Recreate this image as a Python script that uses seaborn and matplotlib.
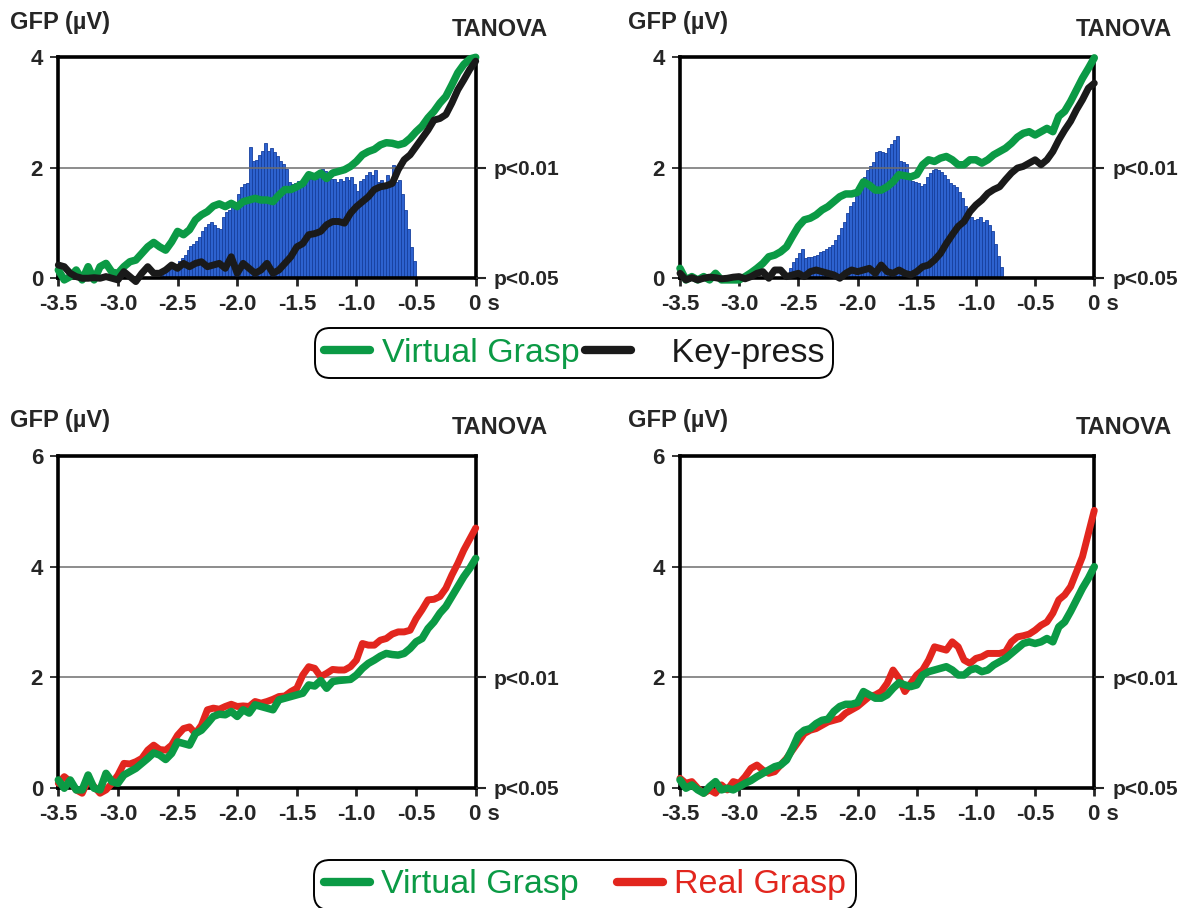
import matplotlib.pyplot as plt
import matplotlib.transforms as mtransforms
from matplotlib.lines import Line2D
import numpy as np
import pandas as pd
import seaborn as sns

# time axis (s before movement), one sample every 50 ms
t = np.round(np.arange(71) * 0.05 - 3.5, 2)

# GFP curves (µV)
vg_top_left = [0.14, -0.04, 0.02, 0.14, -0.04, 0.2, -0.04, 0.2, 0.26, 0.1,
               0.08, 0.2, 0.29, 0.32, 0.44, 0.56, 0.64, 0.56, 0.5, 0.65,
               0.84, 0.78, 0.87, 1.05, 1.14, 1.2, 1.3, 1.34, 1.29, 1.35,
               1.29, 1.38, 1.41, 1.44, 1.41, 1.41, 1.38, 1.5, 1.6, 1.6,
               1.65, 1.71, 1.87, 1.83, 1.9, 1.8, 1.9, 1.93, 1.96, 2.02,
               2.11, 2.23, 2.29, 2.33, 2.41, 2.45, 2.44, 2.41, 2.44, 2.53,
               2.65, 2.75, 2.9, 3.02, 3.17, 3.29, 3.5, 3.72, 3.87, 3.97, 4.0]
kp_top_left = [0.23, 0.2, 0.08, 0.02, -0.01, -0.01, 0.0, -0.01, 0.02, -0.01,
               -0.04, 0.11, 0.02, -0.07, 0.08, 0.2, 0.08, 0.08, 0.14, 0.23,
               0.17, 0.26, 0.2, 0.26, 0.29, 0.2, 0.23, 0.26, 0.17, 0.38,
               0.08, 0.26, 0.17, 0.08, 0.14, 0.26, 0.08, 0.14, 0.26, 0.38,
               0.56, 0.62, 0.78, 0.8, 0.84, 0.96, 1.02, 1.02, 0.99, 1.17,
               1.29, 1.38, 1.47, 1.6, 1.65, 1.67, 1.71, 1.96, 2.14, 2.23,
               2.38, 2.53, 2.68, 2.86, 2.89, 2.96, 3.17, 3.41, 3.59, 3.78, 3.93]
vg_top_right = [0.17, -0.04, 0.02, -0.04, 0.02, -0.04, 0.08, -0.04, -0.04, -0.04,
                -0.04, 0.02, 0.09, 0.17, 0.26, 0.38, 0.41, 0.47, 0.56, 0.75,
                0.93, 1.05, 1.08, 1.14, 1.23, 1.29, 1.38, 1.47, 1.52, 1.52,
                1.55, 1.74, 1.68, 1.59, 1.59, 1.65, 1.74, 1.87, 1.85, 1.83,
                1.87, 2.05, 2.14, 2.11, 2.17, 2.2, 2.14, 2.05, 2.05, 2.14,
                2.14, 2.08, 2.14, 2.23, 2.29, 2.35, 2.44, 2.55, 2.62, 2.65,
                2.59, 2.65, 2.71, 2.65, 2.93, 3.02, 3.2, 3.41, 3.62, 3.8, 3.99]
kp_top_right = [0.08, -0.04, 0.0, -0.04, -0.01, 0.01, 0.0, -0.02, -0.01, 0.01,
                0.02, -0.02, 0.02, 0.08, 0.11, -0.01, 0.14, 0.14, 0.02, 0.05,
                0.08, 0.02, 0.11, 0.14, 0.11, 0.08, 0.05, -0.01, 0.08, 0.14,
                0.11, 0.14, 0.17, 0.08, 0.23, 0.11, 0.08, 0.14, 0.08, 0.05,
                0.11, 0.2, 0.23, 0.32, 0.44, 0.62, 0.78, 0.93, 1.02, 1.2,
                1.32, 1.41, 1.53, 1.6, 1.65, 1.78, 1.9, 1.99, 2.02, 2.08,
                2.14, 2.05, 2.14, 2.29, 2.5, 2.68, 2.84, 3.05, 3.23, 3.44, 3.53]
vg_bottom_left = [0.14, -0.01, 0.14, -0.04, -0.04, 0.23, -0.01, -0.04, 0.26, 0.11,
                  0.08, 0.23, 0.29, 0.35, 0.44, 0.53, 0.63, 0.59, 0.51, 0.62,
                  0.83, 0.8, 0.77, 0.98, 1.04, 1.16, 1.29, 1.33, 1.32, 1.38,
                  1.29, 1.41, 1.35, 1.5, 1.47, 1.44, 1.41, 1.59, 1.62, 1.65,
                  1.68, 1.71, 1.86, 1.84, 1.94, 1.8, 1.92, 1.94, 1.95, 1.96,
                  2.04, 2.16, 2.25, 2.31, 2.38, 2.43, 2.41, 2.4, 2.43, 2.52,
                  2.64, 2.7, 2.88, 3.0, 3.16, 3.28, 3.46, 3.64, 3.82, 3.97, 4.15]
rg_bottom_left = [0.08, 0.2, 0.11, -0.04, -0.1, 0.14, 0.02, -0.1, -0.04, 0.08,
                  0.23, 0.44, 0.43, 0.47, 0.53, 0.68, 0.77, 0.69, 0.68, 0.77,
                  0.95, 1.07, 1.1, 0.98, 1.13, 1.41, 1.44, 1.42, 1.47, 1.51,
                  1.47, 1.48, 1.47, 1.56, 1.53, 1.56, 1.6, 1.65, 1.66, 1.74,
                  1.8, 2.04, 2.19, 2.16, 2.01, 2.07, 2.14, 2.13, 2.13, 2.19,
                  2.31, 2.61, 2.58, 2.58, 2.67, 2.7, 2.78, 2.82, 2.82, 2.85,
                  3.06, 3.22, 3.4, 3.41, 3.46, 3.61, 3.85, 4.06, 4.3, 4.5, 4.7]
vg_bottom_right = [0.14, -0.01, 0.05, -0.04, -0.1, 0.02, 0.11, -0.04, -0.01, -0.04,
                   0.02, 0.08, 0.13, 0.2, 0.26, 0.32, 0.38, 0.41, 0.5, 0.71,
                   0.95, 1.04, 1.07, 1.16, 1.22, 1.24, 1.38, 1.47, 1.51, 1.51,
                   1.54, 1.74, 1.68, 1.62, 1.62, 1.68, 1.8, 1.9, 1.86, 1.83,
                   1.86, 2.04, 2.1, 2.13, 2.16, 2.19, 2.13, 2.04, 2.04, 2.13,
                   2.16, 2.1, 2.13, 2.22, 2.28, 2.34, 2.43, 2.52, 2.61, 2.64,
                   2.61, 2.64, 2.7, 2.64, 2.91, 3.0, 3.19, 3.4, 3.61, 3.79, 4.0]
rg_bottom_right = [0.17, 0.08, 0.11, -0.01, -0.1, -0.04, -0.1, 0.05, -0.04, 0.11,
                   0.08, 0.2, 0.35, 0.41, 0.32, 0.26, 0.29, 0.41, 0.53, 0.68,
                   0.83, 0.98, 1.04, 1.07, 1.13, 1.19, 1.22, 1.25, 1.35, 1.41,
                   1.47, 1.56, 1.65, 1.68, 1.74, 1.89, 2.13, 1.98, 1.74, 1.89,
                   2.04, 2.13, 2.31, 2.55, 2.52, 2.49, 2.64, 2.55, 2.31, 2.25,
                   2.34, 2.37, 2.43, 2.43, 2.43, 2.46, 2.64, 2.73, 2.75, 2.78,
                   2.85, 2.94, 3.0, 3.16, 3.4, 3.49, 3.64, 3.91, 4.18, 4.6, 5.02]

# TANOVA bars, 25 ms bins, first bin left edge given
bar_step = 0.025
tl_bar_start = -2.65
tl_bars = [0.05, 0.08, 0.12, 0.16, 0.2, 0.24, 0.3, 0.36, 0.42, 0.5,
           0.58, 0.62, 0.66, 0.74, 0.84, 0.92, 0.98, 1.02, 0.96, 0.9,
           0.88, 1.1, 1.2, 1.22, 1.3, 1.34, 1.52, 1.64, 1.7, 1.72,
           2.38, 2.12, 2.14, 2.22, 2.3, 2.44, 2.3, 2.36, 2.28, 2.2,
           2.12, 2.06, 1.98, 1.74, 1.7, 1.72, 1.76, 1.74, 1.8, 1.84,
           1.8, 1.82, 1.8, 1.88, 1.98, 1.94, 1.8, 1.8, 1.8, 1.74,
           1.8, 1.76, 1.82, 1.78, 1.82, 1.7, 1.58, 1.76, 1.8, 1.86,
           1.92, 1.86, 1.96, 1.74, 1.78, 1.72, 1.86, 1.74, 2.04, 1.74,
           1.78, 1.52, 1.22, 0.88, 0.56, 0.3]
tr_bar_start = -2.575
tr_bars = [0.18, 0.28, 0.36, 0.44, 0.52, 0.36, 0.37, 0.38, 0.4, 0.42,
           0.46, 0.48, 0.52, 0.55, 0.6, 0.68, 0.78, 0.9, 1.02, 1.18,
           1.3, 1.38, 1.48, 1.58, 1.7, 1.82, 1.96, 2.02, 2.1, 2.28,
           2.3, 2.28, 2.26, 2.36, 2.42, 2.5, 2.58, 2.12, 2.1, 2.06,
           1.8, 1.76, 1.74, 1.72, 1.66, 1.7, 1.82, 1.9, 1.96, 1.98,
           1.96, 1.92, 1.86, 1.8, 1.72, 1.68, 1.64, 1.56, 1.44, 1.3,
           1.18, 1.1, 1.05, 1.06, 1.1, 1.02, 1.04, 0.96, 0.84, 0.62,
           0.4, 0.2]

x_ticks = [-3.5, -3.0, -2.5, -2.0, -1.5, -1.0, -0.5, 0.0]
x_tick_labels = ["-3.5", "-3.0", "-2.5", "-2.0", "-1.5", "-1.0", "-0.5", "0 s"]
p_ticks = [0, 2]
p_labels = ["p<0.05", "p<0.01"]

GREEN = "#0b9a45"
BLACK = "#1a1a1a"
RED = "#e2261e"
BLUE = "#2d62cf"
BLUE_EDGE = "#163f9e"

SANS = ["Liberation Sans", "DejaVu Sans"]

sns.set_style("white")
plt.rcParams["font.family"] = SANS

fig = plt.figure(figsize=(11.81, 9.08), dpi=100)


def panel(rect, ymax, yticks, grid, lines, bars=None):
    ax = fig.add_axes(rect)
    if bars is not None:
        start, heights = bars
        n = len(heights)
        bins_df = pd.DataFrame({
            "t": np.round(start + bar_step * (np.arange(n) + 0.5), 4),
            "h": heights,
        })
        sns.histplot(data=bins_df, x="t", weights="h", binwidth=bar_step,
                     binrange=(start, round(start + n * bar_step, 4)),
                     ax=ax, color=BLUE, edgecolor=BLUE_EDGE, linewidth=0.6,
                     alpha=1, zorder=1)
    for g in grid:
        ax.axhline(g, color="#6e6e6e", lw=1.1, zorder=1.5)
    for y, c, lw in lines:
        sns.lineplot(x=t, y=y, ax=ax, color=c, lw=lw, clip_on=False,
                     zorder=3, solid_capstyle="round", solid_joinstyle="round")
    ax.set_xlim(-3.5, 0)
    ax.set_ylim(0, ymax)
    ax.set_xlabel("")
    ax.set_ylabel("")
    ax.set_xticks(x_ticks)
    ax.set_xticklabels(x_tick_labels, fontsize=16, fontweight="bold")
    ax.set_yticks(yticks)
    ax.set_yticklabels([str(v) for v in yticks], fontsize=16,
                       fontweight="bold")
    ax.tick_params(axis="x", direction="out", length=6, width=2, pad=6,
                   bottom=True)
    ax.tick_params(axis="y", direction="out", length=6, width=1.3, pad=5,
                   left=True)
    for s in ax.spines.values():
        s.set_linewidth(2.6)
        s.set_color("black")
    last = ax.get_xticklabels()[-1]
    last.set_horizontalalignment("left")
    last.set_transform(last.get_transform() +
                       mtransforms.ScaledTranslation(-4.5 / 72, 0, fig.dpi_scale_trans))

    ax2 = ax.twinx()
    ax2.set_ylim(0, ymax)
    ax2.set_yticks(p_ticks)
    ax2.set_yticklabels(p_labels, fontsize=15, fontweight="bold")
    ax2.tick_params(axis="y", direction="out", length=7, width=1.5, pad=6,
                    right=True)
    for s in ax2.spines.values():
        s.set_visible(False)
    return ax


tl = [0.04937, 0.69416, 0.35343, 0.24273]
tr = [0.57578, 0.69416, 0.35080, 0.24273]
bl = [0.04937, 0.13249, 0.35343, 0.36509]
br = [0.57578, 0.13249, 0.35080, 0.36509]

panel(tl, 4, [0, 2, 4], [2],
      [(vg_top_left, GREEN, 5.4), (kp_top_left, BLACK, 5.0)],
      bars=(tl_bar_start, tl_bars))
panel(tr, 4, [0, 2, 4], [2],
      [(vg_top_right, GREEN, 5.4), (kp_top_right, BLACK, 5.0)],
      bars=(tr_bar_start, tr_bars))
panel(bl, 6, [0, 2, 4, 6], [2, 4],
      [(rg_bottom_left, RED, 5.0), (vg_bottom_left, GREEN, 5.4)])
panel(br, 6, [0, 2, 4, 6], [2, 4],
      [(rg_bottom_right, RED, 5.0), (vg_bottom_right, GREEN, 5.4)])

# panel headers
for x_left, x_right, y in [(10, 548, 22), (628, 1172, 22),
                           (10, 548, 421), (628, 1172, 421)]:
    fig.text(x_left / 1181, 1 - y / 908, "GFP (µV)", fontsize=17,
             fontweight="bold", ha="left", va="center")
    fig.text(x_right / 1181, 1 - (y + 7) / 908, "TANOVA", fontsize=17,
             fontweight="bold", ha="right", va="center")


def boxed_legend(items, center, colspacing):
    handles = [Line2D([], [], color=c, lw=6) for _, c in items]
    labels = [lab for lab, _ in items]
    leg = fig.legend(handles, labels, loc="center", bbox_to_anchor=center,
                     ncol=len(items), fontsize=24.5, frameon=True,
                     fancybox=True, handlelength=1.35, handletextpad=0.35,
                     columnspacing=colspacing, borderpad=0.15,
                     borderaxespad=0)
    frame = leg.get_frame()
    frame.set_edgecolor("black")
    frame.set_linewidth(1.4)
    frame.set_alpha(1)
    frame.set_boxstyle("round", pad=0.12, rounding_size=0.45)
    for txt, (_, c) in zip(leg.get_texts(), items):
        txt.set_color(c)
    return leg


boxed_legend([("Virtual Grasp", GREEN), ("   Key-press", BLACK)],
             (574 / 1181, 1 - 353 / 908), 0.15)
boxed_legend([("Virtual Grasp", GREEN), ("Real Grasp", RED)],
             (585 / 1181, 1 - 885 / 908), 1.1)

fig.savefig("out.png", dpi=100, facecolor="white")
